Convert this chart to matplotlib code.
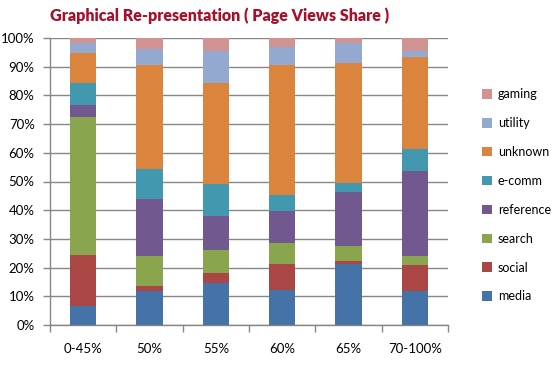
import matplotlib
matplotlib.use("Agg")
import matplotlib.pyplot as plt
from matplotlib.patches import Patch
import numpy as np

categories = ["0-45%", "50%", "55%", "60%", "65%", "70-100%"]
series_names = ["media", "social", "search", "reference", "e-comm", "unknown", "utility", "gaming"]
media = [6.7, 11.9, 14.7, 12.3, 21.4, 11.9]
social = [17.7, 1.8, 3.4, 9.1, 0.9, 9.0]
search = [48.2, 10.5, 8.2, 7.2, 5.4, 3.3]
reference = [4.1, 19.8, 11.8, 11.2, 18.8, 29.5]
ecomm = [7.7, 10.4, 11.2, 5.5, 3.0, 7.5]
unknown = [10.5, 36.1, 35.1, 45.2, 41.7, 32.1]
utility = [3.5, 5.8, 10.9, 6.5, 7.2, 2.0]
gaming = [1.6, 3.7, 4.7, 3.0, 1.6, 4.7]
colors = ["#4572A7", "#AA4643", "#89A54E", "#71588F", "#4198AF", "#DB843D", "#93A9CF", "#D19392"]

data = [media, social, search, reference, ecomm, unknown, utility, gaming]

fig = plt.figure(figsize=(5.57, 3.65), dpi=100)
W, H = 557, 365
ax = fig.add_axes([50 / W, (H - 325) / H, (448 - 50) / W, (325 - 38) / H])

x = np.arange(len(categories))
bottom = np.zeros(len(categories))
for name, vals, c in zip(series_names, data, colors):
    v = np.array(vals, dtype=float)
    ax.bar(x, v, bottom=bottom, width=0.4, color=c, zorder=3, linewidth=0)
    bottom += v

grid_c = "#868686"
ax.set_xlim(-0.5, len(categories) - 0.5)
ax.set_ylim(0, 100)
ax.set_yticks(np.arange(0, 101, 10))
ax.set_yticklabels([f"{v}%" for v in range(0, 101, 10)])
ax.yaxis.grid(True, color=grid_c, linewidth=1, zorder=0)
ax.set_xticks(np.arange(-0.5, len(categories), 1.0))
ax.set_xticklabels([])
ax.set_xticks(x, minor=True)
ax.set_xticklabels(categories, minor=True)
ax.tick_params(axis="x", which="major", length=5, color=grid_c, width=1, direction="out")
ax.tick_params(axis="x", which="minor", length=0, pad=13, labelsize=9.5)
ax.tick_params(axis="y", length=5, color=grid_c, width=1, labelsize=9.5, pad=6)
for s in ["top", "right"]:
    ax.spines[s].set_visible(False)
for s in ["left", "bottom"]:
    ax.spines[s].set_color(grid_c)
    ax.spines[s].set_linewidth(1)

for lab in ax.get_yticklabels() + ax.get_xticklabels(minor=True):
    lab.set_fontfamily("Lato")

handles = [Patch(facecolor=c, edgecolor="none") for c in colors][::-1]
labels = series_names[::-1]
leg = fig.legend(handles, labels, loc="upper left", bbox_to_anchor=(471 / W, 1 - 77 / H),
                 frameon=False, handlelength=0.8, handleheight=0.8, handletextpad=0.45,
                 labelspacing=1.35, prop={"family": "Lato", "size": 9})

fig.text(220 / W, 1 - 16 / H, "Graphical Re-presentation ( Page Views Share )",
         ha="center", va="center", fontsize=11.5, fontweight="heavy",
         color="#A8102A", family="Lato")

fig.savefig("out.png", dpi=100)
